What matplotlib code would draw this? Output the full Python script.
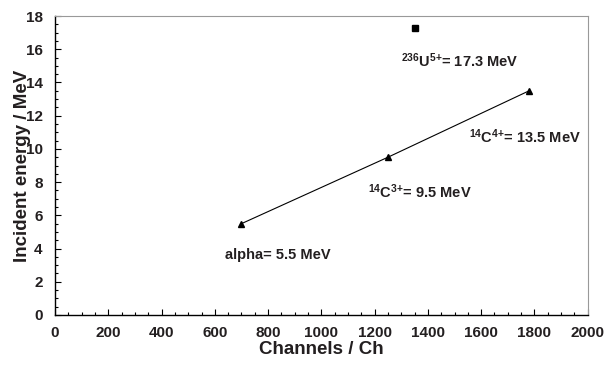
import matplotlib
matplotlib.use("Agg")
import matplotlib.pyplot as plt
from matplotlib.ticker import MultipleLocator

# calibration points (triangles) and the uranium point (square)
cal_ch = [700, 1250, 1780]
cal_energy = [5.5, 9.5, 13.5]
u_ch = [1350]
u_energy = [17.3]

labels = ["alpha= 5.5 MeV",
          r"$^{14}$C$^{3{+}}$= 9.5 MeV",
          r"$^{14}$C$^{4{+}}$= 13.5 MeV",
          r"$^{236}$U$^{5{+}}$= 17.3 MeV"]
label_pos = [(640, 3.6), (1175, 7.4), (1555, 10.75), (1300, 15.3)]

plt.rcParams["font.family"] = ["Liberation Sans", "DejaVu Sans"]
plt.rcParams["font.weight"] = "bold"
plt.rcParams["mathtext.fontset"] = "custom"
plt.rcParams["mathtext.bf"] = "Liberation Sans:bold"
plt.rcParams["mathtext.rm"] = "Liberation Sans:bold"
plt.rcParams["mathtext.default"] = "bf"
text_col = "#231f20"

fig = plt.figure(figsize=(6.06, 3.65), dpi=100)
ax = fig.add_axes([0.0908, 0.137, 0.879, 0.819])

ax.plot(cal_ch, cal_energy, color="black", linewidth=0.8, marker="^", markersize=4)
ax.plot(u_ch, u_energy, linestyle="none", color="black", marker="s", markersize=4)

for txt, (x, y) in zip(labels, label_pos):
    ax.text(x, y, txt, fontsize=10.5, fontweight="bold", color=text_col, ha="left", va="center")

ax.set_xlim(0, 2000)
ax.set_ylim(0, 18)
ax.xaxis.set_major_locator(MultipleLocator(200))
ax.xaxis.set_minor_locator(MultipleLocator(50))
ax.yaxis.set_major_locator(MultipleLocator(2))
ax.yaxis.set_minor_locator(MultipleLocator(0.5))
ax.tick_params(which="both", direction="in", colors="black", labelcolor=text_col, labelsize=11)
ax.tick_params(which="major", length=4, width=0.8)
ax.tick_params(which="minor", length=2.5, width=0.8)
ax.tick_params(axis="x", pad=8)
ax.tick_params(axis="y", pad=9)
for lbl in ax.get_xticklabels() + ax.get_yticklabels():
    lbl.set_fontweight("bold")

for side in ("top", "right"):
    ax.spines[side].set_color("#999999")
    ax.spines[side].set_linewidth(0.8)
for side in ("left", "bottom"):
    ax.spines[side].set_color("black")
    ax.spines[side].set_linewidth(1.0)

ax.set_xlabel("Channels / Ch", fontsize=13.5, fontweight="bold", color=text_col, labelpad=1)
ax.set_ylabel("Incident energy / MeV", fontsize=13.5, fontweight="bold", color=text_col, labelpad=-4)

fig.savefig("out.png", dpi=100)
